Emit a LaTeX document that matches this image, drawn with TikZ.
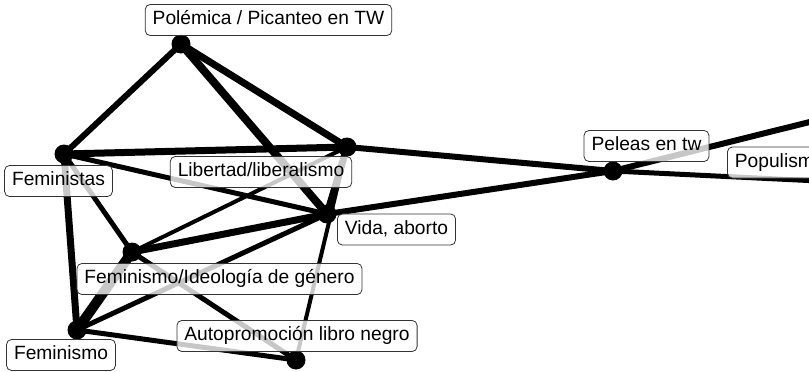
\documentclass[tikz,border=0pt]{standalone}
\usepackage{fontspec}
\setmainfont{Liberation Sans}
\usetikzlibrary{backgrounds}

\begin{document}
\begin{tikzpicture}[
x=1pt, y=-1pt,
dot/.style={circle, fill=black, minimum size=19pt, inner sep=0pt},
lbl/.style={
		draw=black!80,
		line width=0.8pt,
		rounded corners=5pt,
		fill=white,
		fill opacity=0.78,
		text opacity=1,
		inner xsep=7.5pt,
		inner ysep=6.3pt,
		text height=14pt,
		text depth=4.5pt,
		font=\fontsize{19.2}{23}\selectfont,
		},
link/.style={draw=black, line cap=butt}
]
\useasboundingbox (0,0) rectangle (809,372);

\node[dot] (pol) at (181,44) {};
\node[dot] (fems) at (64,154) {};
\node[dot] (lib) at (347,147) {};
\node[dot] (vida) at (327,214) {};
\node[dot] (ideo) at (132,252) {};
\node[dot] (femo) at (77,330) {};
\node[dot] (auto) at (296,360) {};
\node[dot] (pel) at (613,171) {};
\node[dot] (popu) at (880,184) {};
\coordinate (far) at (890,102); % off the page

\begin{scope}[on background layer]
\foreach \a/\b/\w in {pol/fems/6, pol/vida/8, pol/lib/7, fems/lib/7, lib/pel/6,
  fems/vida/5, fems/ideo/5, fems/femo/7, lib/ideo/4, ideo/vida/7, lib/vida/7,
  vida/pel/6, femo/ideo/10, femo/vida/5, femo/auto/5, ideo/auto/5, auto/lib/4,
  pel/far/6, pel/popu/5}
  \draw[link, line width=\w pt] (\a.center) -- (\b.center);
\end{scope}

\node[lbl] (pol-l) at (268.5,20) {Polémica / Picanteo en TW};
\node[lbl] (fems-l) at (58.5,181) {Feministas};
\node[lbl] (lib-l) at (261,172) {Libertad/liberalismo};
\node[lbl] (vida-l) at (396.5,229.5) {Vida, aborto};
\node[lbl] (ideo-l) at (219.5,279) {Feminismo/Ideología de género};
\node[lbl] (auto-l) at (297,336) {Autopromoción libro negro};
\node[lbl] (femo-l) at (61,355) {Feminismo};
\node[lbl] (pel-l) at (646.5,146) {Peleas en tw};
\node[lbl, anchor=west] (popu-l) at (727,162.5) {Populismo};

\end{tikzpicture}
\end{document}
